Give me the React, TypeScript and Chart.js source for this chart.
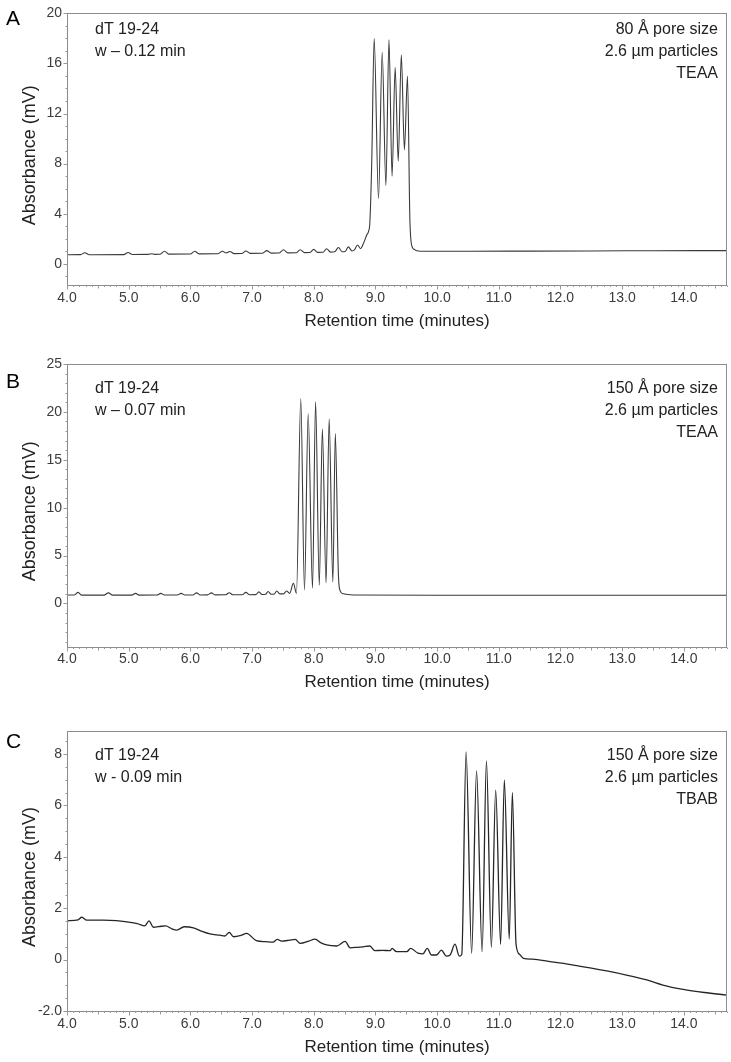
import React, { useEffect, useRef } from 'react';
import { Chart, registerables } from 'chart.js';

Chart.register(...registerables);

const FONT = 'Arial, "Liberation Sans", Helvetica, sans-serif';

// ---------- data ----------
const xTickValues = [4, 5, 6, 7, 8, 9, 10, 11, 12, 13, 14];

const aTime = [4.00, 4.22, 4.29, 4.36, 4.92, 4.99, 5.06, 5.32, 5.37, 5.42, 5.51, 5.58, 5.65, 6.00, 6.07, 6.14, 6.45, 6.52, 6.58, 6.64, 6.71, 6.84, 6.90, 6.97, 7.17, 7.24, 7.31, 7.44, 7.51, 7.58, 7.72, 7.78, 7.85, 7.94, 8.00, 8.06, 8.15, 8.21, 8.27, 8.34, 8.40, 8.46, 8.51, 8.56, 8.62, 8.66, 8.71, 8.76, 8.80, 8.86, 8.89, 8.91, 8.94, 8.98, 9.05, 9.11, 9.17, 9.22, 9.27, 9.32, 9.37, 9.42, 9.47, 9.52, 9.56, 9.60, 9.63, 9.66, 9.74, 10.5, 11.5, 12.5, 13.5, 14.7];
const aAbs = [0.72, 0.73, 0.88, 0.72, 0.73, 0.90, 0.74, 0.75, 0.80, 0.75, 0.76, 1.00, 0.77, 0.78, 1.00, 0.79, 0.80, 1.00, 0.86, 0.98, 0.81, 0.82, 1.02, 0.83, 0.84, 1.05, 0.85, 0.86, 1.12, 0.87, 0.88, 1.12, 0.89, 0.90, 1.15, 0.91, 0.92, 1.20, 0.93, 0.95, 1.30, 0.96, 0.98, 1.35, 1.02, 1.10, 1.50, 1.20, 1.55, 2.3, 2.6, 3.3, 8.0, 18.0, 5.2, 16.9, 6.25, 17.9, 7.0, 15.7, 8.2, 16.7, 9.1, 15.0, 3.3, 1.3, 1.15, 1.05, 1.0, 1.0, 1.01, 1.02, 1.04, 1.05];

const bTime = [4.00, 4.12, 4.18, 4.24, 4.60, 4.67, 4.74, 5.05, 5.11, 5.17, 5.46, 5.52, 5.58, 5.79, 5.85, 5.91, 6.04, 6.10, 6.16, 6.28, 6.34, 6.40, 6.57, 6.63, 6.69, 6.84, 6.90, 6.96, 7.06, 7.11, 7.16, 7.22, 7.26, 7.31, 7.36, 7.40, 7.45, 7.51, 7.56, 7.61, 7.67, 7.72, 7.79, 7.85, 7.91, 7.98, 8.03, 8.09, 8.14, 8.20, 8.25, 8.31, 8.35, 8.40, 8.43, 8.48, 8.64, 10.0, 14.7];
const bAbs = [0.88, 0.88, 1.15, 0.86, 0.86, 1.10, 0.86, 0.87, 1.05, 0.87, 0.88, 1.05, 0.88, 0.88, 1.05, 0.88, 0.88, 1.10, 0.88, 0.89, 1.10, 0.89, 0.90, 1.12, 0.90, 0.90, 1.15, 0.91, 0.92, 1.20, 0.93, 0.95, 1.25, 0.96, 0.98, 1.30, 1.00, 1.00, 1.30, 1.05, 2.10, 1.05, 21.4, 1.4, 19.8, 1.6, 21.05, 1.9, 18.2, 2.15, 19.25, 2.25, 17.75, 3.0, 1.3, 1.0, 0.88, 0.85, 0.85];

const cTime = [4.00, 4.18, 4.24, 4.32, 4.59, 4.80, 4.97, 5.14, 5.26, 5.33, 5.40, 5.53, 5.60, 5.70, 5.78, 5.90, 6.05, 6.19, 6.32, 6.48, 6.56, 6.63, 6.70, 6.83, 6.91, 7.07, 7.22, 7.34, 7.41, 7.48, 7.61, 7.70, 7.78, 7.92, 8.02, 8.12, 8.21, 8.37, 8.51, 8.59, 8.71, 8.80, 8.91, 8.99, 9.11, 9.24, 9.27, 9.34, 9.51, 9.57, 9.69, 9.77, 9.84, 9.91, 9.99, 10.07, 10.15, 10.21, 10.29, 10.36, 10.40, 10.47, 10.56, 10.64, 10.73, 10.80, 10.88, 10.95, 11.03, 11.09, 11.17, 11.22, 11.28, 11.34, 11.40, 11.55, 11.83, 12.21, 12.48, 12.75, 13.07, 13.40, 13.66, 13.99, 14.33, 14.70];
const cAbs = [1.51, 1.55, 1.65, 1.54, 1.54, 1.52, 1.47, 1.40, 1.31, 1.51, 1.26, 1.30, 1.31, 1.20, 1.15, 1.28, 1.24, 1.10, 1.00, 0.95, 0.92, 1.06, 0.89, 0.95, 1.02, 0.74, 0.70, 0.68, 0.79, 0.72, 0.76, 0.79, 0.63, 0.72, 0.80, 0.65, 0.57, 0.53, 0.71, 0.46, 0.48, 0.50, 0.53, 0.35, 0.36, 0.35, 0.44, 0.31, 0.31, 0.44, 0.25, 0.22, 0.44, 0.18, 0.18, 0.37, 0.14, 0.18, 0.60, 0.14, 0.20, 8.09, 0.25, 7.35, 0.31, 7.74, 0.48, 6.60, 0.60, 6.99, 0.80, 6.50, 0.60, 0.20, 0.05, 0.02, -0.08, -0.21, -0.32, -0.44, -0.60, -0.79, -0.99, -1.16, -1.28, -1.38];

const aNotesLeft = ['dT 19-24', 'w \u2013 0.12 min'];
const aNotesRight = ['80 \u00C5 pore size', '2.6 \u00B5m particles', 'TEAA'];
const bNotesLeft = ['dT 19-24', 'w \u2013 0.07 min'];
const bNotesRight = ['150 \u00C5 pore size', '2.6 \u00B5m particles', 'TEAA'];
const cNotesLeft = ['dT 19-24', 'w - 0.09 min'];
const cNotesRight = ['150 \u00C5 pore size', '2.6 \u00B5m particles', 'TBAB'];

// ---------- layout / style ----------
type Panel = {
  letter: string;
  top: number;
  height: number;
  areaTop: number;
  areaBottom: number;
  times: number[];
  values: number[];
  yMin: number;
  yMax: number;
  yStep: number;
  yMinor: number;
  yLabel: (v: number) => string;
  notesLeft: string[];
  notesRight: string[];
  noteY: number;
  letterY: number;
  titlePadBottom: number;
  lineColor: string;
  lineWidth: number;
};

const panels: Panel[] = [
  {
    letter: 'A', top: 0, height: 340, areaTop: 5, areaBottom: 285,
    times: aTime, values: aAbs, yMin: -1.7, yMax: 20, yStep: 4, yMinor: 1,
    yLabel: (v) => String(v),
    notesLeft: aNotesLeft, notesRight: aNotesRight, noteY: 30, letterY: 19,
    titlePadBottom: 8, lineColor: '#3a3a3a', lineWidth: 1.1,
  },
  {
    letter: 'B', top: 340, height: 365, areaTop: 24, areaBottom: 306.5,
    times: bTime, values: bAbs, yMin: -4.5, yMax: 25, yStep: 5, yMinor: 1,
    yLabel: (v) => String(v),
    notesLeft: bNotesLeft, notesRight: bNotesRight, noteY: 49, letterY: 42,
    titlePadBottom: 12, lineColor: '#3a3a3a', lineWidth: 1.1,
  },
  {
    letter: 'C', top: 705, height: 357, areaTop: 26, areaBottom: 306,
    times: cTime, values: cAbs, yMin: -2, yMax: 8.9, yStep: 2, yMinor: 0.5,
    yLabel: (v) => (v === -2 ? '-2.0' : String(v)),
    notesLeft: cNotesLeft, notesRight: cNotesRight, noteY: 51, letterY: 37,
    titlePadBottom: 4, lineColor: '#262626', lineWidth: 1.3,
  },
];

const X_MIN = 4;
const X_MAX = 14.7;
const AREA_LEFT = 67;
const PAD_RIGHT = 4;

function PanelChart({ p }: { p: Panel }) {
  const ref = useRef<HTMLCanvasElement | null>(null);

  useEffect(() => {
    if (!ref.current) return;
    const decor = {
      id: 'decor' + p.letter,
      afterDraw(chart: any) {
        const ctx = chart.ctx as CanvasRenderingContext2D;
        const { left, right, top, bottom } = chart.chartArea;
        const xs = chart.scales.x;
        const ys = chart.scales.y;
        ctx.save();
        // frame
        ctx.strokeStyle = '#8c8c8c';
        ctx.lineWidth = 1;
        ctx.strokeRect(Math.round(left) + 0.5, Math.round(top) + 0.5, Math.round(right - left) - 1, Math.round(bottom - top));
        // x ticks
        ctx.strokeStyle = '#999';
        ctx.beginPath();
        for (let i = Math.round(X_MIN * 10); i <= Math.round(X_MAX * 10); i++) {
          const px = Math.round(xs.getPixelForValue(i / 10)) + 0.5;
          const len = i % 10 === 0 ? 4 : i % 5 === 0 ? 3 : 1.5;
          ctx.moveTo(px, Math.round(bottom) + 0.5);
          ctx.lineTo(px, Math.round(bottom) + 0.5 + len);
        }
        // y ticks
        const nMin = Math.ceil(p.yMin / p.yMinor);
        const nMax = Math.floor(p.yMax / p.yMinor);
        const ratio = Math.round(p.yStep / p.yMinor);
        for (let n = nMin; n <= nMax; n++) {
          const py = Math.round(ys.getPixelForValue(n * p.yMinor)) + 0.5;
          const len = n % ratio === 0 ? 4 : 2;
          ctx.moveTo(Math.round(left) + 0.5, py);
          ctx.lineTo(Math.round(left) + 0.5 - len, py);
        }
        ctx.stroke();

        // y title
        ctx.fillStyle = '#222';
        ctx.font = `18px ${FONT}`;
        ctx.textAlign = 'center';
        ctx.textBaseline = 'middle';
        ctx.save();
        ctx.translate(30, (top + bottom) / 2 + 6);
        ctx.rotate(-Math.PI / 2);
        ctx.fillText('Absorbance (mV)', 0, 0);
        ctx.restore();

        // panel letter
        ctx.fillStyle = '#000';
        ctx.font = `21px ${FONT}`;
        ctx.textAlign = 'left';
        ctx.fillText(p.letter, 6, p.letterY);

        // notes
        ctx.fillStyle = '#222';
        ctx.font = `16px ${FONT}`;
        ctx.textAlign = 'left';
        p.notesLeft.forEach((t, i) => ctx.fillText(t, 95, p.noteY + i * 22));
        ctx.textAlign = 'right';
        p.notesRight.forEach((t, i) => ctx.fillText(t, 718, p.noteY + i * 22));
        ctx.restore();
      },
    };

    const chart = new Chart(ref.current, {
      type: 'line',
      data: {
        datasets: [
          {
            data: p.times.map((t, i) => ({ x: t, y: p.values[i] })),
            borderColor: p.lineColor,
            borderWidth: p.lineWidth,
            pointRadius: 0,
            cubicInterpolationMode: 'monotone',
            fill: false,
          },
        ],
      },
      options: {
        responsive: false,
        animation: false,
        devicePixelRatio: 1,
        layout: { padding: { top: p.areaTop, right: PAD_RIGHT, left: 0, bottom: 0 } },
        plugins: { legend: { display: false }, tooltip: { enabled: false } },
        scales: {
          x: {
            type: 'linear',
            min: X_MIN,
            max: X_MAX,
            grid: { display: false, drawTicks: false },
            border: { display: false },
            afterBuildTicks: (s: any) => {
              s.ticks = xTickValues.map((v) => ({ value: v }));
            },
            ticks: {
              padding: 4.5,
              maxRotation: 0,
              autoSkip: false,
              color: '#3c3c3c',
              font: { family: FONT, size: 14 },
              callback: (v: any) => Number(v).toFixed(1),
            },
            title: {
              display: true,
              text: 'Retention time (minutes)',
              color: '#222',
              font: { family: FONT, size: 17 },
              padding: { top: 0, bottom: p.titlePadBottom },
            },
            afterFit: (s: any) => {
              s.height = p.height - p.areaBottom;
            },
          },
          y: {
            type: 'linear',
            min: p.yMin,
            max: p.yMax,
            grid: { display: false, drawTicks: false },
            border: { display: false },
            ticks: {
              stepSize: p.yStep,
              includeBounds: false,
              padding: 5,
              color: '#3c3c3c',
              font: { family: FONT, size: 14 },
              callback: (v: any) => p.yLabel(Number(v)),
            },
            afterFit: (s: any) => {
              s.width = AREA_LEFT;
            },
          },
        },
      },
      plugins: [decor],
    } as any);
    return () => chart.destroy();
  }, [p]);

  return (
    <canvas
      ref={ref}
      width={731}
      height={p.height}
      style={{ position: 'absolute', left: 0, top: p.top, width: 731, height: p.height }}
    />
  );
}

export default function App() {
  return (
    <div style={{ position: 'absolute', left: 0, top: 0, width: 731, height: 1062, background: '#fff', overflow: 'hidden' }}>
      {panels.map((p) => (
        <PanelChart key={p.letter} p={p} />
      ))}
    </div>
  );
}
